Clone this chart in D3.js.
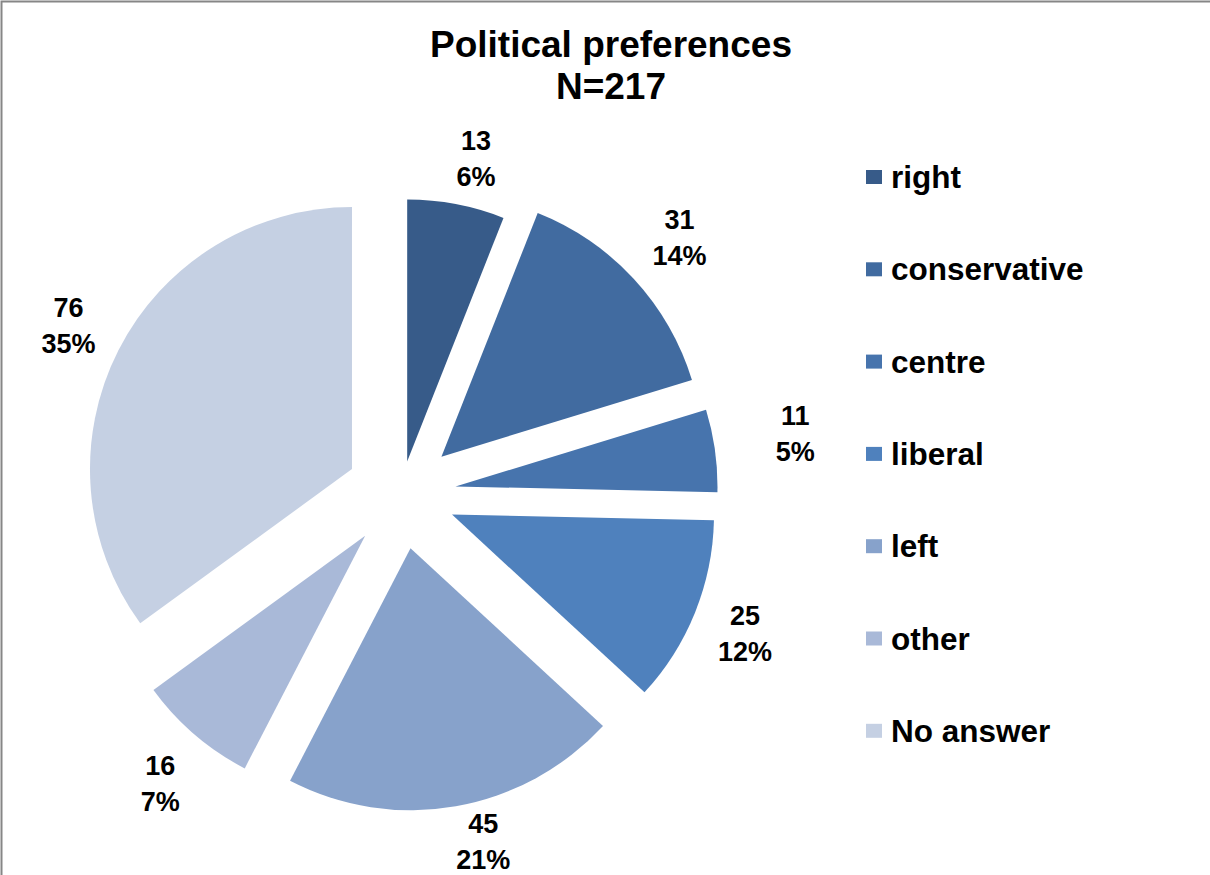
<!DOCTYPE html>
<html>
<head>
<meta charset="utf-8">
<script src="https://cdn.jsdelivr.net/npm/d3@7"></script>
<style>
  body { margin: 0; background: #fff; }
  svg { display: block; font-family: "Liberation Sans", Arial, sans-serif; font-weight: bold; }
</style>
</head>
<body>
<div id="chart"></div>
<script>
const categories = ['right', 'conservative', 'centre', 'liberal', 'left', 'other', 'No answer']
const counts = [13, 31, 11, 25, 45, 16, 76]
const percentLabels = ['6%', '14%', '5%', '12%', '21%', '7%', '35%']
const colors = ['#375b89', '#416ba0', '#4774ad', '#4f81bd', '#87a2cb', '#a9b9d8', '#c5d0e3']

const width = 1210, height = 875
const cx = 401, cy = 494, radius = 262

// explosion distance and label placement (extra distance past the rim, angle nudge in degrees)
const explode = d => d.data.name === 'right' ? 33 : 55
const labelPlace = {
  'right': [49, 2], 'conservative': [62, 0], 'centre': [82, -1], 'liberal': [54, 0],
  'left': [40, -4], 'other': [59, -1], 'No answer': [56, 0]
}

const data = categories.map((name, i) => ({ name, count: counts[i], pct: percentLabels[i], color: colors[i] }))

const pie = d3.pie().sort(null).value(d => d.count)
const arc = d3.arc().innerRadius(0).outerRadius(radius)
const arcs = pie(data)

const mid = d => (d.startAngle + d.endAngle) / 2

const svg = d3.select('#chart').append('svg')
  .attr('width', width)
  .attr('height', height)

svg.append('rect')
  .attr('x', 1.5).attr('y', 1.5)
  .attr('width', width + 50).attr('height', height + 50)
  .attr('fill', '#fff')
  .attr('stroke', '#868686')
  .attr('stroke-width', 2)

const title = svg.append('text')
  .attr('text-anchor', 'middle')
  .attr('font-size', 37)
  .attr('fill', '#000')
title.append('tspan').attr('x', 611).attr('y', 57).text('Political preferences')
title.append('tspan').attr('x', 611).attr('y', 99).text('N=217')

const slices = svg.append('g')
  .attr('transform', 'translate(' + cx + ', ' + cy + ')')

slices.selectAll('path')
  .data(arcs).enter()
  .append('path')
  .attr('transform', d => {
    const a = mid(d), e = explode(d)
    return 'translate(' + (Math.sin(a) * e) + ', ' + (-Math.cos(a) * e) + ')'
  })
  .attr('d', arc)
  .attr('fill', d => d.data.color)

const labels = slices.selectAll('g.label')
  .data(arcs).enter()
  .append('g').classed('label', true)
  .attr('transform', d => {
    const a = mid(d), e = explode(d)
    const p = labelPlace[d.data.name]
    const la = a + p[1] * Math.PI / 180
    const r = radius + p[0]
    const x = Math.sin(a) * e + Math.sin(la) * r
    const y = -Math.cos(a) * e - Math.cos(la) * r
    return 'translate(' + x + ', ' + y + ')'
  })
  .attr('text-anchor', 'middle')
  .attr('font-size', 27)

labels.append('text').attr('y', -8).text(d => d.data.count)
labels.append('text').attr('y', 28).text(d => d.data.pct)

const legend = svg.append('g')
  .attr('transform', 'translate(866, 177)')

const rows = legend.selectAll('g')
  .data(data).enter()
  .append('g')
  .attr('transform', (d, i) => 'translate(0, ' + (i * 92.3) + ')')

rows.append('rect')
  .attr('x', 0).attr('y', -7)
  .attr('width', 16).attr('height', 14)
  .attr('fill', d => d.color)

rows.append('text')
  .attr('x', 25).attr('y', 11)
  .attr('font-size', 31.5)
  .text(d => d.name)
</script>
</body>
</html>
